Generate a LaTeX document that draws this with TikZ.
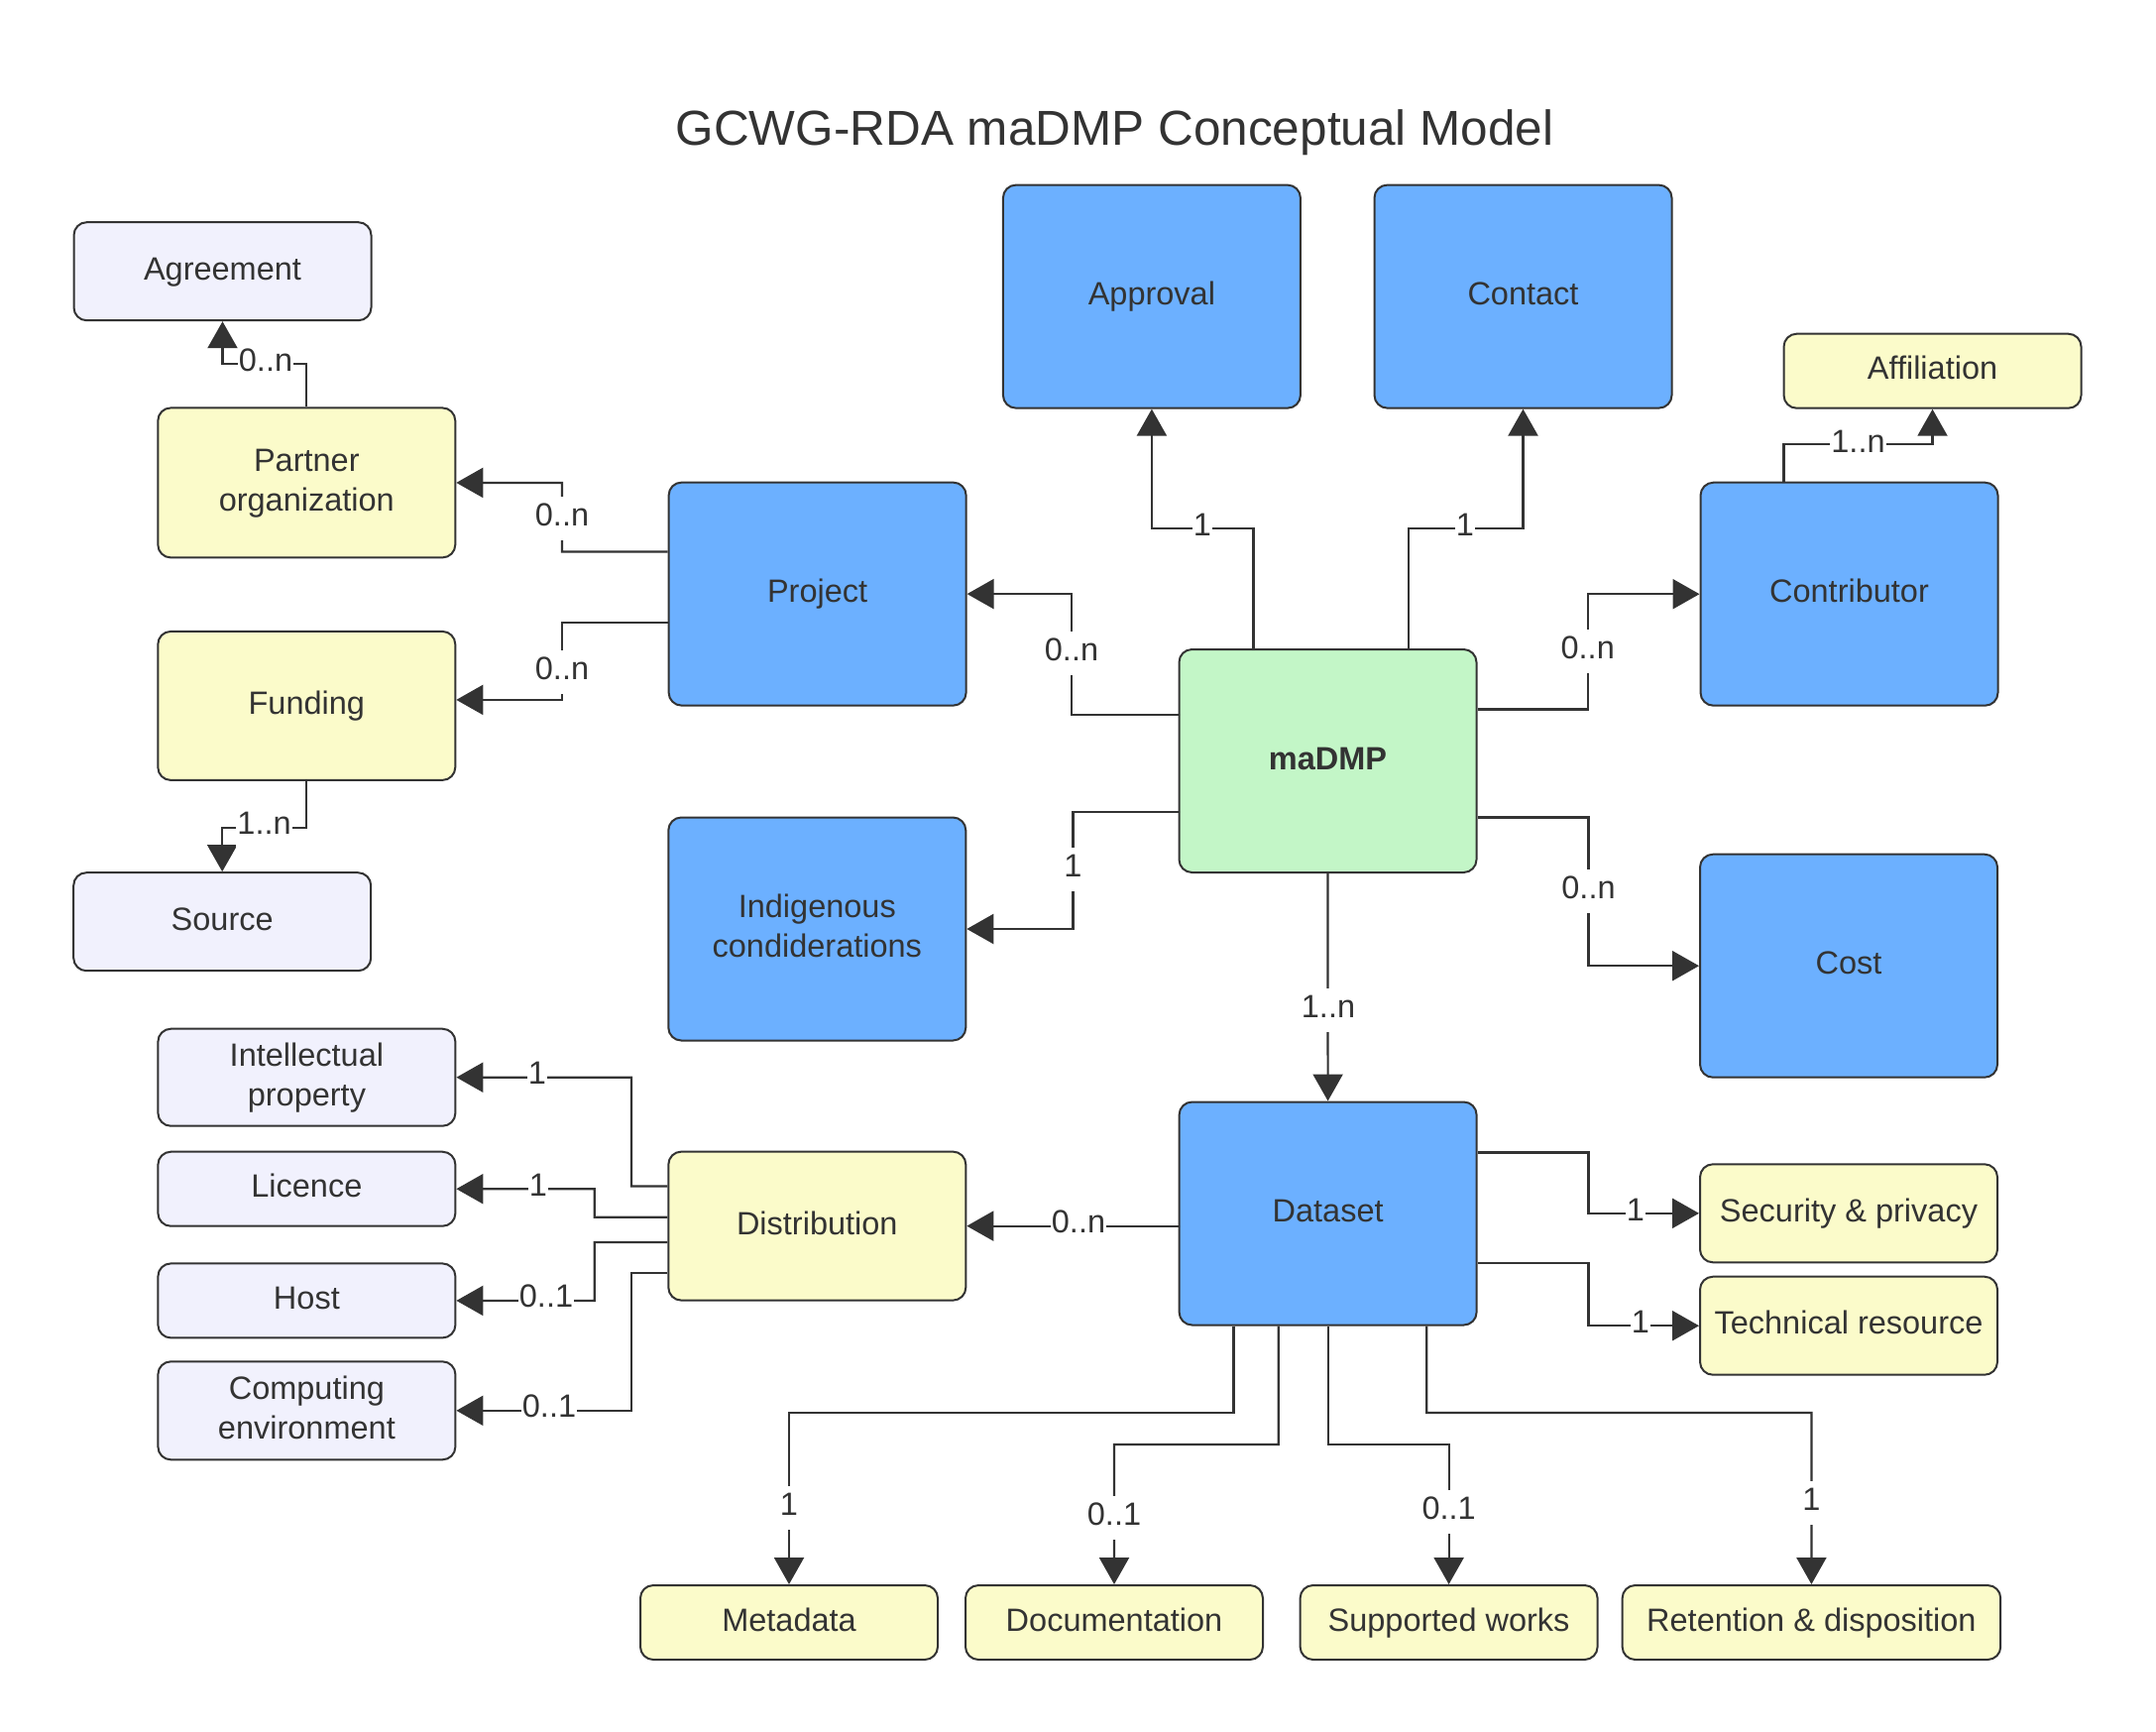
\documentclass[tikz,border=0pt]{standalone}
\usepackage{fontspec}
\setmainfont{Liberation Sans}
\usetikzlibrary{arrows.meta,calc}
\definecolor{ink}{HTML}{333333}
\definecolor{cblue}{HTML}{6CB0FF}
\definecolor{cyellow}{HTML}{FBFBCA}
\definecolor{clav}{HTML}{F1F1FD}
\definecolor{cgreen}{HTML}{C3F6C7}
\newcommand\mystrut{\vrule width 0pt height 24pt depth 7pt\relax}
\begin{document}
\begin{tikzpicture}[x=1pt,y=-1pt,
  box/.style={draw=ink, line width=2pt, rounded corners=13pt, minimum width=300pt,
    text=ink, align=center, inner sep=0pt, font=\fontsize{32.5}{40}\selectfont},
  bluebox/.style={box, fill=cblue, minimum height=225pt},
  ybox/.style={box, fill=cyellow},
  lbox/.style={box, fill=clav},
  gbox/.style={box, fill=cgreen, minimum height=225pt},
  conn/.style={draw=ink, line width=2.2pt, -{Triangle[length=27pt,width=30pt]}},
  lbl/.style={fill=white, text=ink, inner xsep=1pt, inner ysep=0pt,
    text height=29pt, text depth=15pt, font=\fontsize{32.5}{40}\selectfont},
]
\useasboundingbox (0,0) rectangle (2175,1746);

\node[text=ink, font=\fontsize{49.5}{59}\selectfont, anchor=base] (title) at (1124.6,146) {GCWG-RDA maDMP Conceptual Model};

% nodes
\node[lbox, minimum height=99pt] (agreement) at (224.5,273.7) {\mystrut Agreement};
\node[ybox, minimum height=151pt] (partner) at (309.3,486.9) {\mystrut Partner\\\mystrut organization};
\node[ybox, minimum height=150pt] (funding) at (309.3,711.9) {\mystrut Funding};
\node[lbox, minimum height=99pt] (source) at (224.2,929.7) {\mystrut Source};
\node[bluebox] (project) at (824.6,599.1) {\mystrut Project};
\node[bluebox] (approval) at (1161.9,299.1) {\mystrut Approval};
\node[bluebox] (contact) at (1536.5,299.1) {\mystrut Contact};
\node[ybox, minimum height=75pt] (affiliation) at (1949.5,374.2) {\mystrut Affiliation};
\node[bluebox] (contributor) at (1865.5,599.2) {\mystrut Contributor};
\node[gbox] (madmp) at (1339.5,767.5) {\mystrut\bfseries maDMP};
\node[bluebox] (indigenous) at (824.3,937) {\mystrut Indigenous\\\mystrut condiderations};
\node[bluebox] (cost) at (1865,974.2) {\mystrut Cost};
\node[lbox, minimum height=98pt] (ip) at (309.4,1086.7) {\mystrut Intellectual\\\mystrut property};
\node[lbox, minimum height=75pt] (licence) at (309.4,1199.2) {\mystrut Licence};
\node[lbox, minimum height=75pt] (host) at (309.4,1311.9) {\mystrut Host};
\node[lbox, minimum height=99pt] (computing) at (309.4,1422.8) {\mystrut Computing\\\mystrut environment};
\node[ybox, minimum height=150pt] (distribution) at (824.3,1236.6) {\mystrut Distribution};
\node[bluebox] (dataset) at (1339.6,1224) {\mystrut Dataset};
\node[ybox, minimum height=99pt] (security) at (1865,1223.8) {\mystrut Security \& privacy};
\node[ybox, minimum height=99pt] (technical) at (1865,1337.2) {\mystrut Technical resource};
\node[ybox, minimum height=75pt] (metadata) at (796,1636.5) {\mystrut Metadata};
\node[ybox, minimum height=75pt] (documentation) at (1124,1636.5) {\mystrut Documentation};
\node[ybox, minimum height=75pt] (supported) at (1461.6,1636.5) {\mystrut Supported works};
\node[ybox, minimum height=75pt, minimum width=381.6pt] (retention) at (1827.4,1636.5) {\mystrut Retention \& disposition};

% connectors
\draw[conn] (partner.north) -- ++(0,-43.5) -| (agreement.south);
\draw[conn] ($(project.west)+(0,-42.7)$) -- (567,556.4) |- (partner.east);
\draw[conn] ($(project.west)+(0,28.5)$) -- (567,627.6) |- ($(funding.east)+(0,-6)$);
\draw[conn] (funding.south) -- ++(0,47.2) -| (source.north);
\draw[conn] ($(madmp.north)+(-75,0)$) -- ++(0,-121.4) -| (approval.south);
\draw[conn] ($(madmp.north)+(81.5,0)$) -- ++(0,-121.4) -| (contact.south);
\draw[conn] ($(contributor.north)+(-66,0)$) -- ++(0,-37.6) -| (affiliation.south);
\draw[conn] ($(madmp.east)+(0,-52.1)$) -- (1601.7,715.4) |- (contributor.west);
\draw[conn] ($(madmp.west)+(0,-46.9)$) -- (1081,720.6) |- (project.east);
\draw[conn] ($(madmp.west)+(0,51.5)$) -- (1082.4,819) |- (indigenous.east);
\draw[conn] ($(madmp.east)+(0,57)$) -- (1602.5,824.5) |- (cost.west);
\draw[conn] (madmp.south) -- (dataset.north);
\draw[conn] (dataset.west |- distribution.east) -- (distribution.east);
\draw[conn] ($(dataset.east)+(0,-61.5)$) -- (1602.5,1162.5) |- (security.west);
\draw[conn] ($(dataset.east)+(0,50)$) -- (1602.5,1274) |- (technical.west);
\draw[conn] ($(distribution.west)+(0,-40.2)$) -- (637,1196.4) |- (ip.east);
\draw[conn] ($(distribution.west)+(0,-8.9)$) -- (599.8,1227.7) |- (licence.east);
\draw[conn] ($(distribution.west)+(0,16.3)$) -- (599.8,1252.9) |- (host.east);
\draw[conn] ($(distribution.west)+(0,47.5)$) -- (637,1284.1) |- (computing.east);
\draw[conn] ($(dataset.south)+(-95.1,0)$) -- (1244.5,1425) -| (metadata.north);
\draw[conn] ($(dataset.south)+(-49.9,0)$) -- (1289.7,1457) -| (documentation.north);
\draw[conn] (dataset.south) -- (1339.6,1457) -| (supported.north);
\draw[conn] ($(dataset.south)+(99.6,0)$) -- (1439.2,1425) -| (retention.north);

% labels
\node[lbl] (l1) at (268,367.9) {0..n};
\node[lbl] (l2) at (567,523) {0..n};
\node[lbl] (l3) at (567,678) {0..n};
\node[lbl] (l4) at (266.6,834.1) {1..n};
\node[lbl] (l5) at (1213,533.6) {1};
\node[lbl] (l6) at (1478,533.6) {1};
\node[lbl] (l7) at (1874.5,449.1) {1..n};
\node[lbl] (l8) at (1601.7,657) {0..n};
\node[lbl] (l9) at (1081,659) {0..n};
\node[lbl] (l10) at (1082.4,877) {1};
\node[lbl] (l11) at (1602.5,899) {0..n};
\node[lbl] (l12) at (1340,1019) {1..n};
\node[lbl] (l13) at (1088,1236.6) {0..n};
\node[lbl] (l14) at (1650,1224) {1};
\node[lbl] (l15) at (1655,1337.2) {1};
\node[lbl] (l16) at (542,1086.7) {1};
\node[lbl] (l17) at (543,1199.2) {1};
\node[lbl] (l18) at (551,1311.9) {0..1};
\node[lbl] (l19) at (554,1422.8) {0..1};
\node[lbl] (l20) at (796,1521) {1};
\node[lbl] (l21) at (1124,1531) {0..1};
\node[lbl] (l22) at (1461.6,1525) {0..1};
\node[lbl] (l23) at (1827.4,1516) {1};
\end{tikzpicture}
\end{document}
